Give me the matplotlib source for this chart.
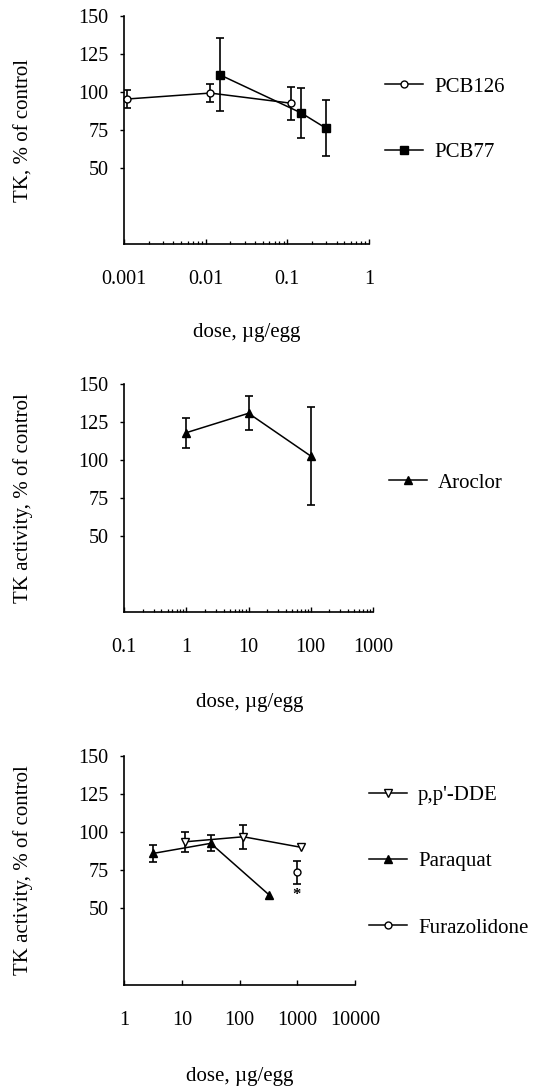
import numpy as np
import matplotlib
matplotlib.use("Agg")
import matplotlib.pyplot as plt
from matplotlib.lines import Line2D
from matplotlib import ticker

plt.rcParams['font.family'] = ['Liberation Serif', 'DejaVu Serif']
plt.rcParams['font.size'] = 14.5

# ---------------- data ----------------
pcb126_dose = [0.0011, 0.0114, 0.112]
pcb126_val = [95.4, 99.3, 92.6]
pcb126_err = [6.2, 6.0, 10.7]

pcb77_dose = [0.0148, 0.148, 0.297]
pcb77_val = [111.4, 86.2, 76.2]
pcb77_err = [23.8, 16.2, 18.5]

aroclor_dose = [1, 10, 100]
aroclor_val = [117.9, 130.7, 102.5]
aroclor_err = [10.0, 11.2, 32.6]

dde_dose = [11.4, 116, 1150]
dde_val = [93.6, 96.9, 90.0]
dde_err = [6.6, 8.0, np.nan]

paraquat_dose = [3.2, 31.6, 326]
paraquat_val = [86.0, 92.6, 58.7]
paraquat_err = [5.5, 5.3, np.nan]

furaz_dose = [970]
furaz_val = [73.6]
furaz_err = [7.4]
furaz_sig_y = [58.5]

y_ticks = [50, 75, 100, 125, 150]
top_xticks = [0.001, 0.01, 0.1, 1]
top_xlabels = ['0.001', '0.01', '0.1', '1']
mid_xticks = [0.1, 1, 10, 100, 1000]
mid_xlabels = ['0.1', '1', '10', '100', '1000']
bot_xticks = [1, 10, 100, 1000, 10000]
bot_xlabels = ['1', '10', '100', '1000', '10000']

xlabel_text = 'dose, \u00b5g/egg'

W, H = 537, 1086
fig = plt.figure(figsize=(W / 100, H / 100), dpi=100)

TICK_FS = 14.5
LABEL_FS = 15
LEG_FS = 15


def px_axes(left, right, top, bottom):
    return fig.add_axes([left / W, 1 - bottom / H, (right - left) / W, (bottom - top) / H])


def style(ax, xticks, xlabels, ylab, ylab_x, xlab_x, xlab_y):
    ax.set_xscale('log')
    ax.set_xlim(xticks[0], xticks[-1])
    ax.set_ylim(0, 150)
    ax.spines['top'].set_visible(False)
    ax.spines['right'].set_visible(False)
    for s in ('left', 'bottom'):
        ax.spines[s].set_linewidth(1.2)
    ax.set_yticks(y_ticks)
    ax.set_xticks(xticks)
    ax.set_xticklabels(xlabels)
    ax.xaxis.set_minor_locator(ticker.LogLocator(base=10, subs=np.arange(2, 10)))
    ax.xaxis.set_minor_formatter(ticker.NullFormatter())
    ax.tick_params(axis='x', which='major', direction='in', length=3.5, width=1.0, pad=19, labelsize=TICK_FS)
    ax.tick_params(axis='x', which='minor', direction='in', length=2, width=0.9)
    ax.tick_params(axis='y', which='major', direction='out', length=3, width=1.0, pad=8, labelsize=TICK_FS)
    ax.set_ylabel(ylab, fontsize=LABEL_FS, va='center')
    ax.yaxis.set_label_coords(ylab_x, 0.5)
    ax.set_xlabel(xlabel_text, fontsize=LABEL_FS, va='center')
    ax.xaxis.set_label_coords(xlab_x, xlab_y)


def series(ax, x, y, err, marker, mfc, ms):
    x = np.asarray(x, float)
    y = np.asarray(y, float)
    err = np.asarray(err, float)
    m = ~np.isnan(err)
    if m.any():
        ax.errorbar(x[m], y[m], yerr=err[m], fmt='none', ecolor='black',
                    elinewidth=1.2, capsize=2.6, capthick=1.2, zorder=2)
    ax.plot(x, y, color='black', lw=1.1, marker=marker, mfc=mfc, mec='black',
            mew=1.0, ms=ms, zorder=3, clip_on=False)


def legend(ax, entries, x, y, spacing):
    handles = [Line2D([], [], color='black', lw=1.1, marker=mk, mfc=fc, mec='black',
                      mew=1.0, ms=ms) for mk, fc, ms, _ in entries]
    labels = [e[3] for e in entries]
    ax.legend(handles, labels, loc='center left', bbox_to_anchor=(x / W, 1 - y / H),
              bbox_transform=fig.transFigure, frameon=False, borderpad=0, borderaxespad=0,
              handlelength=1.8, handletextpad=0.55, labelspacing=spacing, fontsize=LEG_FS)


# ---------------- top panel ----------------
ax1 = px_axes(124, 369, 16, 244)
series(ax1, pcb126_dose, pcb126_val, pcb126_err, 'o', 'white', 5)
series(ax1, pcb77_dose, pcb77_val, pcb77_err, 's', 'black', 5.5)
style(ax1, top_xticks, top_xlabels, 'TK, % of control', -0.41, 0.502, -0.39)
legend(ax1, [('o', 'white', 5, 'PCB126'), ('s', 'black', 5.5, 'PCB77')], 385, 119.5, 2.2)

# ---------------- middle panel ----------------
ax2 = px_axes(124, 373, 384, 611.5)
series(ax2, aroclor_dose, aroclor_val, aroclor_err, '^', 'black', 6)
style(ax2, mid_xticks, mid_xlabels, 'TK activity, % of control', -0.405, 0.506, -0.398)
legend(ax2, [('^', 'black', 6, 'Aroclor')], 389, 483, 2.0)

# ---------------- bottom panel ----------------
ax3 = px_axes(124, 355.3, 755.7, 984.7)
series(ax3, dde_dose, dde_val, dde_err, 'v', 'white', 6)
series(ax3, paraquat_dose, paraquat_val, paraquat_err, '^', 'black', 6)
series(ax3, furaz_dose, furaz_val, furaz_err, 'o', 'white', 5)
for xd, yd in zip(furaz_dose, furaz_sig_y):
    ax3.text(xd, yd, '*', ha='center', va='center', fontsize=12, fontweight='bold')
style(ax3, bot_xticks, bot_xlabels, 'TK activity, % of control', -0.435, 0.5, -0.403)
legend(ax3, [('v', 'white', 6, "p,p'-DDE"), ('^', 'black', 6, 'Paraquat'),
             ('o', 'white', 5, 'Furazolidone')], 369, 861.5, 2.25)

fig.savefig('out.png', dpi=100)
